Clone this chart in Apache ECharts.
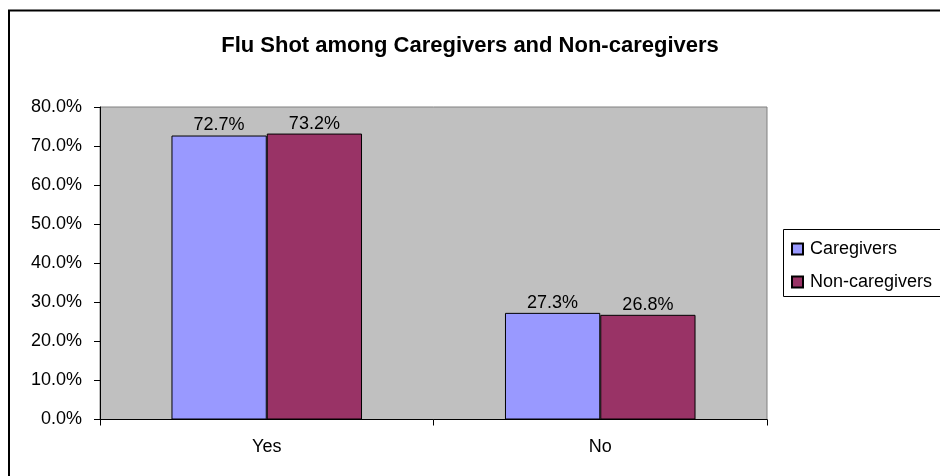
<!DOCTYPE html>
<html>
<head>
<meta charset="utf-8">
<script src="https://cdn.jsdelivr.net/npm/echarts@6/dist/echarts.min.js"></script>
<style>
html,body{margin:0;padding:0;background:#fff;}
#c{width:940px;height:476px;}
</style>
</head>
<body>
<div id="c"></div>
<script>
var titleText = 'Flu Shot among Caregivers and Non-caregivers';
var categories = ['Yes', 'No'];
var seriesNames = ['Caregivers', 'Non-caregivers'];
var caregivers = [72.7, 27.3];
var nonCaregivers = [73.2, 26.8];
var yTicks = [0, 10, 20, 30, 40, 50, 60, 70, 80];

var FONT = 'Liberation Sans, Arial, sans-serif';
var FS = 18;
var chart = echarts.init(document.getElementById('c'), null, {renderer: 'canvas'});

function barSeries(name, data, color) {
  return {
    name: name,
    type: 'bar',
    data: data,
    barGap: '0%',
    barCategoryGap: '42.86%',
    itemStyle: {color: color, borderColor: '#000', borderWidth: 1},
    label: {
      show: true,
      position: 'top',
      distance: 1,
      color: '#000',
      fontFamily: FONT,
      fontSize: FS,
      formatter: function (p) { return p.value.toFixed(1) + '%'; }
    }
  };
}

chart.setOption({
  animation: false,
  backgroundColor: '#fff',
  title: {
    text: titleText,
    left: 'center',
    top: 35,
    padding: 0,
    textStyle: {fontFamily: FONT, fontSize: 22, fontWeight: 'bold', color: '#000'}
  },
  legend: {
    data: seriesNames,
    left: 791,
    top: 239,
    padding: 0,
    orient: 'vertical',
    itemGap: 13,
    itemWidth: 11,
    itemHeight: 11,
    icon: 'rect',
    textStyle: {fontFamily: FONT, fontSize: FS, lineHeight: 20, color: '#000', padding: [0, 0, 0, 2]}
  },
  graphic: [
    {type: 'rect', shape: {x: 9, y: 10.5, width: 1200, height: 1000},
     style: {fill: 'none', stroke: '#000', lineWidth: 2}, silent: true, z: 100},
    {type: 'rect', shape: {x: 783.5, y: 229.5, width: 300, height: 67},
     style: {fill: 'none', stroke: '#000', lineWidth: 1}, silent: true, z: 100}
  ],
  grid: {
    left: 100, right: 173, top: 107, bottom: 56.5,
    show: true, backgroundColor: '#C0C0C0', borderColor: '#808080', borderWidth: 1
  },
  xAxis: {
    type: 'category',
    data: categories,
    axisLine: {lineStyle: {color: '#000', width: 1}},
    axisTick: {show: true, length: 6, lineStyle: {color: '#000'}},
    axisLabel: {fontFamily: FONT, fontSize: FS, color: '#000', margin: 19}
  },
  yAxis: {
    type: 'value',
    min: yTicks[0],
    max: yTicks[yTicks.length - 1],
    interval: 10,
    axisLine: {show: true, lineStyle: {color: '#000', width: 1}},
    axisTick: {show: true, length: 6, lineStyle: {color: '#000'}},
    splitLine: {show: false},
    axisLabel: {fontFamily: FONT, fontSize: FS, color: '#000', margin: 18,
      formatter: function (v) { return v.toFixed(1) + '%'; }}
  },
  series: [
    barSeries(seriesNames[0], caregivers, '#9999FF'),
    barSeries(seriesNames[1], nonCaregivers, '#993366')
  ]
});
</script>
</body>
</html>
